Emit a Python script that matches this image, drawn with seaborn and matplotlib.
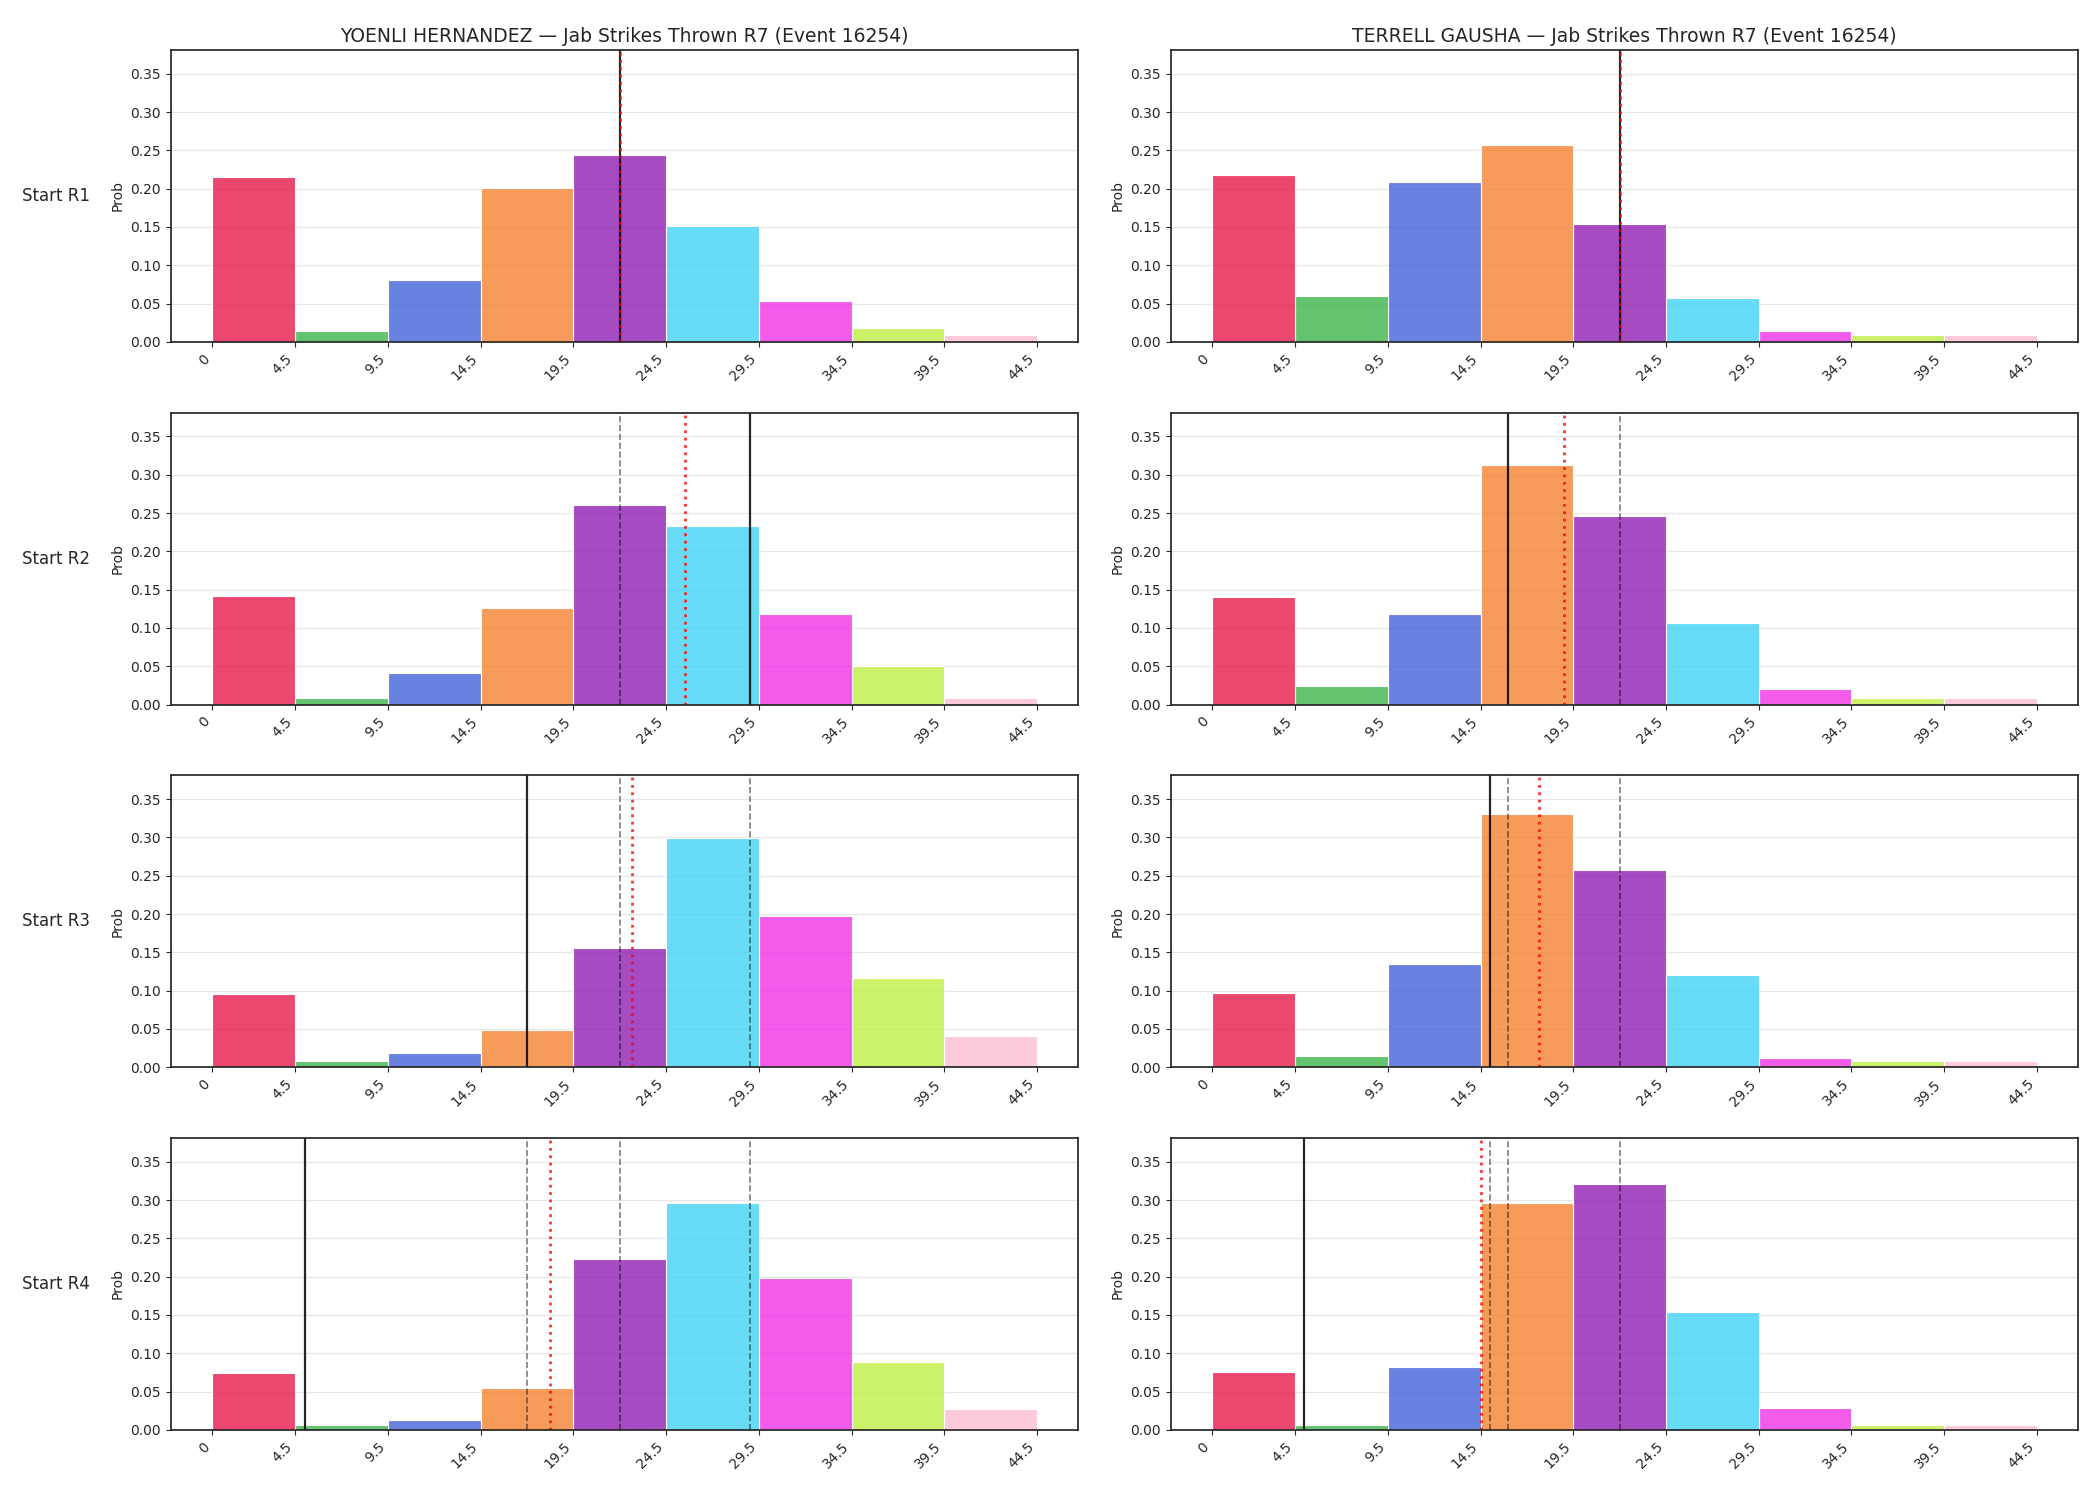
import numpy as np
import pandas as pd
import matplotlib
matplotlib.use("Agg")
import matplotlib.pyplot as plt
import seaborn as sns

# ---------------- data ----------------
bin_edges = [0, 4.5, 9.5, 14.5, 19.5, 24.5, 29.5, 34.5, 39.5, 44.5]
tick_labels = ["0", "4.5", "9.5", "14.5", "19.5", "24.5", "29.5", "34.5", "39.5", "44.5"]
bin_names = ["b0", "b1", "b2", "b3", "b4", "b5", "b6", "b7", "b8"]
bar_colors = ["#e6194b", "#3cb44b", "#4363d8", "#f58231", "#911eb4",
              "#42d4f4", "#f032e6", "#bfef45", "#fabed4"]

fighters = ["YOENLI HERNANDEZ", "TERRELL GAUSHA"]
stat_title = "Jab Strikes Thrown R7 (Event 16254)"
row_labels = ["Start R1", "Start R2", "Start R3", "Start R4"]

hernandez_r1 = [0.215, 0.014, 0.081, 0.201, 0.244, 0.151, 0.053, 0.018, 0.009]
hernandez_r2 = [0.142, 0.008, 0.041, 0.126, 0.260, 0.233, 0.118, 0.050, 0.009]
hernandez_r3 = [0.096, 0.008, 0.019, 0.048, 0.156, 0.299, 0.198, 0.117, 0.041]
hernandez_r4 = [0.074, 0.007, 0.013, 0.055, 0.223, 0.296, 0.198, 0.089, 0.027]

gausha_r1 = [0.218, 0.060, 0.209, 0.257, 0.154, 0.057, 0.014, 0.009, 0.009]
gausha_r2 = [0.140, 0.024, 0.118, 0.313, 0.246, 0.106, 0.021, 0.008, 0.008]
gausha_r3 = [0.097, 0.015, 0.135, 0.331, 0.257, 0.121, 0.012, 0.008, 0.008]
gausha_r4 = [0.076, 0.007, 0.082, 0.296, 0.321, 0.154, 0.028, 0.007, 0.007]

# observed jab counts per round (R1..R4)
hernandez_rounds = [22, 29, 17, 5]
gausha_rounds = [22, 16, 15, 5]

probs = [
    [hernandez_r1, gausha_r1],
    [hernandez_r2, gausha_r2],
    [hernandez_r3, gausha_r3],
    [hernandez_r4, gausha_r4],
]
rounds = [hernandez_rounds, gausha_rounds]
y_max = 0.381

# ---------------- plot ----------------
sns.set_style("ticks")
plt.rcParams["font.family"] = ["DejaVu Sans"]

fig, axes = plt.subplots(4, 2, figsize=(21, 15), dpi=100)
fig.subplots_adjust(left=0.0813, right=0.9895, top=0.9667, bottom=0.0467,
                    wspace=0.1018, hspace=0.242)

centers = [(bin_edges[i] + bin_edges[i + 1]) / 2 for i in range(len(bin_edges) - 1)]

for r in range(4):
    for c in range(2):
        ax = axes[r, c]
        df = pd.DataFrame({"x": centers, "p": probs[r][c], "bin": bin_names})
        sns.histplot(data=df, x="x", weights="p", hue="bin", hue_order=bin_names,
                     palette=bar_colors, bins=bin_edges, alpha=0.8,
                     edgecolor="white", linewidth=0.8, legend=False, ax=ax)
        # drop the empty (zero-height) bars produced for each hue level
        for patch in list(ax.patches):
            if patch.get_height() == 0:
                patch.remove()
        vals = rounds[c][: r + 1]
        for v in vals[:-1]:
            ax.axvline(v, color="black", alpha=0.5, linestyle="--", linewidth=1.2)
        ax.axvline(vals[-1], color="black", alpha=0.85, linestyle="-", linewidth=1.6)
        ax.axvline(np.mean(vals), color="red", alpha=0.8, linestyle=":", linewidth=2)

        ax.set_ylim(0, y_max)
        ax.set_xticks(bin_edges)
        ax.set_xticklabels(tick_labels, rotation=45, ha="right")
        ax.set_xlabel("")
        ax.set_ylabel("Prob", fontsize=10)
        ax.tick_params(labelsize=10)
        ax.grid(axis="y", color="#e6e6e6", linewidth=0.9)
        ax.set_axisbelow(True)
        for s in ax.spines.values():
            s.set_linewidth(1.25)
        if r == 0:
            ax.set_title(f"{fighters[c]} \u2014 {stat_title}", fontsize=13.5)
        if c == 0:
            ax.text(-0.089, 0.5, row_labels[r], transform=ax.transAxes,
                    ha="right", va="center", fontsize=12)

fig.savefig("out.png", dpi=100)
